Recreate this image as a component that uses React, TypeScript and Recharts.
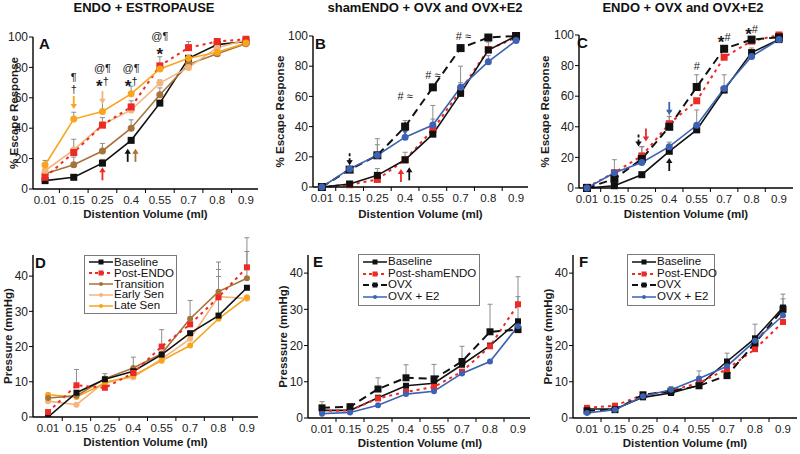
import React from 'react';
import { LineChart, Line, XAxis, YAxis, ErrorBar, ReferenceDot, Legend } from 'recharts';

const FONT = '"Liberation Sans", Arial, Helvetica, sans-serif';

// distention volumes (ml) – category labels on every x axis
const volumes = ['0.01', '0.15', '0.25', '0.4', '0.55', '0.7', '0.8', '0.9'];
const escTicks = [0, 20, 40, 60, 80, 100];
const pressTicks = [0, 10, 20, 30, 40];

// ---- A: escape response, ENDO + estropause
const escBaselineA = [5.5, 7.7, 17, 32, 56.5, 86, 95, 97];
const escPostEndoA = [7.7, 24, 42, 54, 81, 93, 97, 98.5];
const escTransitionA = [10, 16, 25, 40, 62, 82, 89, 95.6];
const escEarlySenA = [12, 25.7, 42.4, 52, 69.7, 80, 93, 98];
const escLateSenA = [15.8, 46, 51, 62.6, 79, 86, 90, 96];
const errBaselineA = [null, 1.5, 2.5, null, null, null, 3, null];
const errPostEndoA = [null, null, 5, 4, 6, 4, 2, null];
const errTransitionA = [null, 5, 5, 5.5, 4.5, null, null, null];
const errEarlySenA = [3, 7, null, null, 2, null, null, null];
const errLateSenA = [3, 4.5, 8, 5, null, null, null, null];

// ---- B: escape response, shamENDO + OVX and OVX+E2
const escBaselineB = [0, 2, 7.7, 18, 35, 62, 90.7, 100];
const escPostShamB = [0, 1.5, 5, 18, 38, 64, 91, 99];
const escOvxB = [0, 11.5, 21, 40, 66, 92, 99, 100];
const escOvxE2B = [0, 12, 21, 33, 41, 66, 83, 97];
const errBaselineB = [null, null, 4.5, null, null, 7, null, null];
const errPostShamB = [null, null, null, 5, 7, null, 5, null];
const errOvxB = [null, 6, 7, 4, null, null, null, null];
const errOvxE2B = [null, null, 11, null, 13, 14, 4, null];

// ---- C: escape response, ENDO + OVX and OVX+E2
const escBaselineC = [0, 1.5, 8.7, 24, 38, 64, 88.5, 97];
const escPostEndoC = [0.5, 10, 21, 42, 57, 85.5, 96, 100];
const escOvxC = [0, 6, 19, 40, 66, 91, 97, 98.5];
const escOvxE2C = [0, 10, 16.7, 27, 41, 65, 86, 97];
const errBaselineC = [null, null, null, 3, null, null, 3, null];
const errPostEndoC = [null, 8.5, 6, 8, null, null, null, null];
const errOvxC = [null, null, 8, 6.7, 8, 2, null, null];
const errOvxE2C = [null, null, null, 3, 10, 9, null, 2];

// ---- D: pressure, ENDO + estropause
const prBaselineD = [0, 6.9, 10.7, 13, 17.7, 23.8, 28.8, 36.7];
const prPostEndoD = [1.4, 9, 8.3, 12.5, 20, 26.3, 34, 42.5];
const prTransitionD = [5.4, 6, 10.9, 13.9, 18, 27.9, 35.6, 39.4];
const prEarlySenD = [4.5, 3.5, 10, 11.3, 16.5, 22.2, 34.2, 33.6];
const prLateSenD = [6.3, 5.7, 9.6, 11.8, 16, 20.3, 27.9, 34];
const errBaselineD = [null, null, null, null, null, null, 11.1, null];
const errPostEndoD = [null, 4.5, null, null, 4.8, null, null, 8.4];
const errTransitionD = [null, null, 1.4, 3.1, null, 5.2, 8.4, 7.6];
const errEarlySenD = [null, null, null, null, null, null, 7.7, null];
const errLateSenD = [null, null, null, null, null, null, null, null];

// ---- E: pressure, shamENDO + OVX and OVX+E2
const prBaselineE = [2.1, 2.1, 5.6, 8.9, 9.6, 14.7, 20, 26.7];
const prPostShamE = [1.9, 2.1, 5.4, 7.2, 8.6, 12.8, 19.8, 31.4];
const prOvxE = [2.8, 3.1, 8, 11.1, 10.8, 15.6, 23.8, 24.4];
const prOvxE2E = [1.2, 1.5, 3.5, 6.6, 7.4, 12.3, 15.6, 25.3];
const errBaselineE = [null, null, null, null, null, null, null, 6.8];
const errPostShamE = [null, null, null, null, null, null, null, 7.6];
const errOvxE = [1.7, 0.9, 3.1, 3.6, 4, 4.2, 7.6, null];
const errOvxE2E = [null, null, null, null, null, null, null, null];

// ---- F: pressure, ENDO + OVX and OVX+E2
const prBaselineF = [2.5, 2.5, 5.7, 6.9, 9, 15.6, 22, 30.5];
const prPostEndoF = [2.8, 3.4, 6.4, 7.5, 9.7, 13.5, 19, 26.5];
const prOvxF = [2, 2.3, 6.4, 7.4, 8.9, 11.7, 20.7, 30];
const prOvxE2F = [1.4, 2.3, 6, 7.8, 10.9, 14.3, 21.3, 28.3];
const errBaselineF = [null, null, null, null, null, 2.3, 3.9, 3.7];
const errPostEndoF = [null, null, null, null, null, null, null, null];
const errOvxF = [null, null, null, 1.3, null, null, null, 2.9];
const errOvxE2F = [null, null, null, null, 2.1, null, null, null];

// significance marks (x = volume index, y = data units)
const notesA = [
  { x: 1, y: 74, t: '¶' }, { x: 1, y: 66, t: '†' },
  { x: 2, y: 79.5, t: '@¶' }, { x: 2, y: 71, t: '*†' },
  { x: 3, y: 79.5, t: '@¶' }, { x: 3, y: 71, t: '*†' },
  { x: 4, y: 100.5, t: '@¶' }, { x: 4, y: 92, t: '*' },
];
const notesB = [
  { x: 3, y: 60, t: '# ≈' }, { x: 4, y: 74, t: '# ≈' }, { x: 5.1, y: 100, t: '# ≈' },
];
const notesC = [
  { x: 4, y: 80, t: '#' }, { x: 5, y: 99, t: '*#' }, { x: 6, y: 103.7, t: '*#' },
];

// arrows: tip position, direction, series colour
const arrowsA = [
  { x: 1, tip: 52.7, dir: 'down', s: 'late' },
  { x: 2, tip: 56, dir: 'down', s: 'early' },
  { x: 2, tip: 14.3, dir: 'up', s: 'post' },
  { x: 2.88, tip: 26.4, dir: 'up', s: 'base' },
  { x: 3.15, tip: 26.4, dir: 'up', s: 'trans' },
];
const arrowsB = [
  { x: 1, tip: 14.4, dir: 'down', s: 'ovx' },
  { x: 3, tip: 34.5, dir: 'down', s: 'e2' },
  { x: 2.85, tip: 12, dir: 'up', s: 'post' },
  { x: 3.15, tip: 13, dir: 'up', s: 'base' },
];
const arrowsC = [
  { x: 1.88, tip: 27.2, dir: 'down', s: 'ovx' },
  { x: 2.15, tip: 30.4, dir: 'down', s: 'post' },
  { x: 3, tip: 47.8, dir: 'down', s: 'e2' },
  { x: 3, tip: 19.6, dir: 'up', s: 'base' },
];

const BLACK = '#111';
const RED = '#ee2a24';
const BROWN = '#a6733a';
const TAN = '#f4b57c';
const ORANGE = '#f8a51c';
const BLUE = '#3d62b3';
const GREY = '#8c8c8c';

type SeriesDef = {
  id: string; name: string; values: number[]; errors: (number | null)[];
  color: string; dash?: string; width: number; marker: 'square' | 'circle'; size: number;
};

const base = (values: number[], errors: (number | null)[], size = 7): SeriesDef =>
  ({ id: 'base', name: 'Baseline', values, errors, color: BLACK, width: 1.6, marker: 'square', size });
const post = (name: string, values: number[], errors: (number | null)[], size = 7): SeriesDef =>
  ({ id: 'post', name, values, errors, color: RED, dash: '3 4', width: 2, marker: 'square', size });
const ovx = (values: number[], errors: (number | null)[], size = 8): SeriesDef =>
  ({ id: 'ovx', name: 'OVX', values, errors, color: BLACK, dash: '8 5', width: 2, marker: 'square', size });
const e2 = (values: number[], errors: (number | null)[], size = 7): SeriesDef =>
  ({ id: 'e2', name: 'OVX + E2', values, errors, color: BLUE, width: 1.6, marker: 'circle', size });
const trans = (values: number[], errors: (number | null)[], size = 7): SeriesDef =>
  ({ id: 'trans', name: 'Transition', values, errors, color: BROWN, width: 1.6, marker: 'circle', size });
const early = (values: number[], errors: (number | null)[], size = 7): SeriesDef =>
  ({ id: 'early', name: 'Early Sen', values, errors, color: TAN, width: 1.6, marker: 'circle', size });
const late = (values: number[], errors: (number | null)[], size = 7): SeriesDef =>
  ({ id: 'late', name: 'Late Sen', values, errors, color: ORANGE, width: 1.6, marker: 'circle', size });

type PanelDef = {
  left: number; top: number; width: number; height: number;
  plot: { l: number; r: number; t: number; b: number };
  xAxisH: number;
  xDomain: [number, number]; yDomain: [number, number]; yTicks: number[];
  yLabel: string; yLabelX: number; clipY?: boolean;
  letter: string; letterPos: [number, number];
  title?: string; titleX?: number;
  series: SeriesDef[]; order?: string[];
  notes?: { x: number; y: number; t: string }[];
  arrows?: { x: number; tip: number; dir: string; s: string }[];
  legend?: { left: number; top: number; rowH: number; width: number };
};

const panels: PanelDef[] = [
  {
    left: 0, top: 0, width: 265, height: 225, plot: { l: 33, r: 258, t: 37, b: 189 }, xAxisH: 29,
    xDomain: [-0.42, 7.42], yDomain: [0, 100], yTicks: escTicks, yLabel: '% Escape Response', yLabelX: 14,
    letter: 'A', letterPos: [39, 36], title: 'ENDO + ESTROPAUSE', titleX: 144,
    series: [base(escBaselineA, errBaselineA), trans(escTransitionA, errTransitionA), early(escEarlySenA, errEarlySenA),
      post('Post-ENDO', escPostEndoA, errPostEndoA), late(escLateSenA, errLateSenA)],
    notes: notesA, arrows: arrowsA,
  },
  {
    left: 265, top: 0, width: 265, height: 225, plot: { l: 48, r: 263, t: 36, b: 187 }, xAxisH: 31,
    xDomain: [-0.32, 7.43], yDomain: [0, 100], yTicks: escTicks, yLabel: '% Escape Response', yLabelX: 15,
    letter: 'B', letterPos: [50, 36], title: 'shamENDO + OVX and OVX+E2', titleX: 425,
    series: [post('Post-shamENDO', escPostShamB, errPostShamB), base(escBaselineB, errBaselineB), ovx(escOvxB, errOvxB), e2(escOvxE2B, errOvxE2B)],
    notes: notesB, arrows: arrowsB,
  },
  {
    left: 530, top: 0, width: 270, height: 225, plot: { l: 49, r: 263, t: 35, b: 188 }, xAxisH: 30,
    xDomain: [-0.29, 7.51], yDomain: [0, 100], yTicks: escTicks, yLabel: '% Escape Response', yLabelX: 15,
    letter: 'C', letterPos: [47, 35], title: 'ENDO + OVX and OVX+E2', titleX: 683,
    series: [base(escBaselineC, errBaselineC), post('Post-ENDO', escPostEndoC, errPostEndoC), ovx(escOvxC, errOvxC), e2(escOvxE2C, errOvxE2C)],
    notes: notesC, arrows: arrowsC,
  },
  {
    left: 0, top: 225, width: 265, height: 229, plot: { l: 33, r: 258, t: 30, b: 192 }, xAxisH: 29,
    xDomain: [-0.53, 7.39], yDomain: [0, 46], yTicks: pressTicks, yLabel: 'Pressure (mmHg)', yLabelX: 8, clipY: true,
    letter: 'D', letterPos: [35, 30],
    series: [base(prBaselineD, errBaselineD, 6), post('Post-ENDO', prPostEndoD, errPostEndoD, 6), trans(prTransitionD, errTransitionD, 6),
      early(prEarlySenD, errEarlySenD, 6), late(prLateSenD, errLateSenD, 6)],
    order: ['early', 'late', 'trans', 'base', 'post'],
    legend: { left: 84, top: 30, rowH: 10.8, width: 93 },
  },
  {
    left: 265, top: 225, width: 265, height: 229, plot: { l: 43, r: 267, t: 30, b: 193 }, xAxisH: 29,
    xDomain: [-0.5, 7.5], yDomain: [0, 45], yTicks: pressTicks, yLabel: 'Presssure (mmHg)', yLabelX: 18,
    letter: 'E', letterPos: [48, 29],
    series: [base(prBaselineE, errBaselineE, 6), post('Post-shamENDO', prPostShamE, errPostShamE, 6), ovx(prOvxE, errOvxE, 7), e2(prOvxE2E, errOvxE2E, 6)],
    legend: { left: 93, top: 29, rowH: 11.7, width: 122 },
  },
  {
    left: 530, top: 225, width: 270, height: 229, plot: { l: 43, r: 267, t: 30, b: 193 }, xAxisH: 29,
    xDomain: [-0.5, 7.5], yDomain: [0, 45], yTicks: pressTicks, yLabel: 'Pressure (mmHg)', yLabelX: 18,
    letter: 'F', letterPos: [49, 29],
    series: [base(prBaselineF, errBaselineF, 6), post('Post-ENDO', prPostEndoF, errPostEndoF, 6), ovx(prOvxF, errOvxF, 7), e2(prOvxE2F, errOvxE2F, 6)],
    legend: { left: 97, top: 29, rowH: 11.7, width: 88 },
  },
];

const xTicks = [...volumes.map((_, i) => i), ...volumes.slice(1).map((_, i) => i + 0.5)];

function XTick(props: any) {
  const { x, y, payload } = props;
  const v = payload.value;
  if (Number.isInteger(v)) {
    return (
      <text x={x} y={y} dy={8} textAnchor="middle" fontSize={11.5} fontFamily={FONT} fill="#222">
        {volumes[v]}
      </text>
    );
  }
  return <line x1={x} x2={x} y1={y - 7} y2={y - 3} stroke="#000" strokeWidth={1} />;
}

const makeDot = (s: SeriesDef) => (p: any) => {
  const { cx, cy, index } = p;
  if (cx == null || cy == null) return <g key={`n${index}`} />;
  if (s.marker === 'square') {
    return <rect key={`d${index}`} x={cx - s.size / 2} y={cy - s.size / 2} width={s.size} height={s.size} fill={s.color} />;
  }
  return <circle key={`d${index}`} cx={cx} cy={cy} r={s.size / 2} fill={s.color} />;
};

function NoteMark({ cx, cy, text }: { cx: number; cy: number; text: string }) {
  return (
    <text x={cx} y={cy} dy={4} textAnchor="middle" fontFamily={FONT} fill="#1a1a1a" fontSize={11}>
      {[...text].map((ch, k) =>
        ch === '*' ? (
          <tspan key={k} fontSize={17} fontWeight={700} baselineShift="-0.42em">*</tspan>
        ) : (
          <tspan key={k}>{ch}</tspan>
        ),
      )}
    </text>
  );
}

function ArrowMark({ cx, cy, dir, color, dashed }: { cx: number; cy: number; dir: string; color: string; dashed: boolean }) {
  const d = dir === 'down' ? 1 : -1; // shaft sits above the tip for a down arrow
  const len = 13;
  const head = 5;
  return (
    <g>
      <line x1={cx} x2={cx} y1={cy - d * (head - 1)} y2={cy - d * len} stroke={color} strokeWidth={1.8}
        strokeDasharray={dashed ? '3 2' : undefined} />
      <polygon points={`${cx},${cy} ${cx - 3.2},${cy - d * head} ${cx + 3.2},${cy - d * head}`} fill={color} />
    </g>
  );
}

function LegendBox({ series, rowH, width }: { series: SeriesDef[]; rowH: number; width: number }) {
  return (
    <div style={{ border: '1px solid #7a7a7a', background: '#fff', padding: '1px 2px 2px 3px', width, boxSizing: 'border-box' }}>
      {series.map((s) => (
        <div key={s.id} style={{ display: 'flex', alignItems: 'center', height: rowH }}>
          <svg width={26} height={8} style={{ flex: 'none' }}>
            <line x1={1} x2={25} y1={4} y2={4} stroke={s.color} strokeWidth={s.dash ? 2 : 1.5}
              strokeDasharray={s.id === 'post' ? '3 3' : s.id === 'ovx' ? '6 3' : undefined} />
            {s.marker === 'square'
              ? <rect x={10.5} y={1.5} width={5} height={5} fill={s.color} />
              : <circle cx={13} cy={4} r={2} fill={s.color} />}
          </svg>
          <span style={{ fontFamily: FONT, fontSize: 11.5, color: '#111', lineHeight: `${rowH}px`, whiteSpace: 'nowrap' }}>{s.name}</span>
        </div>
      ))}
    </div>
  );
}

function Panel({ p }: { p: PanelDef }) {
  const rows = volumes.map((_, i) => {
    const r: Record<string, any> = { i };
    p.series.forEach((s) => {
      r[s.id] = s.values[i];
      const e = s.errors[i];
      r[`${s.id}Err`] = e == null ? null : [0, e];
    });
    return r;
  });
  const drawOrder = p.order ? p.order.map((id) => p.series.find((s) => s.id === id)!) : p.series;
  const colorOf = (id: string) => p.series.find((s) => s.id === id)?.color ?? BLACK;
  const axisStyle = { stroke: '#000', strokeWidth: 1.4 };
  return (
    <div style={{ position: 'absolute', left: p.left, top: p.top, width: p.width, height: p.height }}>
      <LineChart
        width={p.width}
        height={p.height}
        data={rows}
        margin={{ top: p.plot.t, right: p.width - p.plot.r, bottom: p.height - p.plot.b - p.xAxisH, left: 0 }}
      >
        <XAxis
          type="number"
          dataKey="i"
          domain={p.xDomain}
          ticks={xTicks}
          interval={0}
          tick={<XTick />}
          tickLine={false}
          tickSize={4}
          tickMargin={3}
          axisLine={axisStyle}
          height={p.xAxisH}
          label={{
            value: 'Distention Volume (ml)', position: 'insideBottom', offset: 0,
            style: { fontFamily: FONT, fontWeight: 700, fontSize: 11.5, fill: '#1a1a1a' },
          }}
        />
        <YAxis
          type="number"
          domain={p.yDomain}
          ticks={p.yTicks}
          interval={0}
          allowDataOverflow={!!p.clipY}
          width={p.plot.l}
          tick={{ fontSize: 12, fontFamily: FONT, fill: '#222' }}
          tickLine={{ stroke: '#000' }}
          tickSize={4}
          tickMargin={1}
          axisLine={axisStyle}
          label={{
            value: p.yLabel, angle: -90, position: 'insideLeft', offset: p.yLabelX,
            style: { textAnchor: 'middle', fontFamily: FONT, fontWeight: 700, fontSize: 11.5, fill: '#1a1a1a' },
          }}
        />
        {drawOrder.map((s) => (
          <Line
            key={s.id}
            type="linear"
            dataKey={s.id}
            name={s.name}
            stroke={s.color}
            strokeWidth={s.width}
            strokeDasharray={s.dash}
            dot={makeDot(s)}
            activeDot={false}
            isAnimationActive={false}
          >
            {s.errors.some((e) => e != null) && (
              <ErrorBar dataKey={`${s.id}Err`} direction="y" width={2.5} stroke={GREY} strokeWidth={1} isAnimationActive={false} />
            )}
          </Line>
        ))}
        {(p.notes || []).map((n, k) => (
          <ReferenceDot key={`n${k}`} x={n.x} y={n.y} r={1} ifOverflow="visible"
            shape={(sp: any) => <NoteMark cx={sp.cx} cy={sp.cy} text={n.t} />} />
        ))}
        {(p.arrows || []).map((a, k) => (
          <ReferenceDot key={`a${k}`} x={a.x} y={a.tip} r={1} ifOverflow="visible"
            shape={(sp: any) => <ArrowMark cx={sp.cx} cy={sp.cy} dir={a.dir} color={colorOf(a.s)} dashed={a.s === 'ovx'} />} />
        ))}
        {p.legend && (
          <Legend
            layout="vertical"
            align="center"
            verticalAlign="middle"
            wrapperStyle={{ left: p.legend.left, top: p.legend.top, width: 'auto', height: 'auto' }}
            content={() => <LegendBox series={p.series} rowH={p.legend!.rowH} width={p.legend!.width} />}
          />
        )}
      </LineChart>
      <div style={{ position: 'absolute', left: p.letterPos[0], top: p.letterPos[1], fontFamily: FONT, fontWeight: 700, fontSize: 15, lineHeight: 1, color: '#111' }}>
        {p.letter}
      </div>
    </div>
  );
}

export default function App() {
  return (
    <div style={{ position: 'absolute', left: 0, top: 0, width: 800, height: 454, background: '#fff', overflow: 'hidden' }}>
      {panels.map((p) => (
        <Panel key={p.letter} p={p} />
      ))}
      {panels.filter((p) => p.title).map((p) => (
        <div key={`t${p.letter}`} style={{ position: 'absolute', left: p.titleX, top: 0, transform: 'translateX(-50%)', fontFamily: FONT, fontWeight: 700, fontSize: 13, lineHeight: '15px', color: '#111', whiteSpace: 'nowrap' }}>
          {p.title}
        </div>
      ))}
    </div>
  );
}
